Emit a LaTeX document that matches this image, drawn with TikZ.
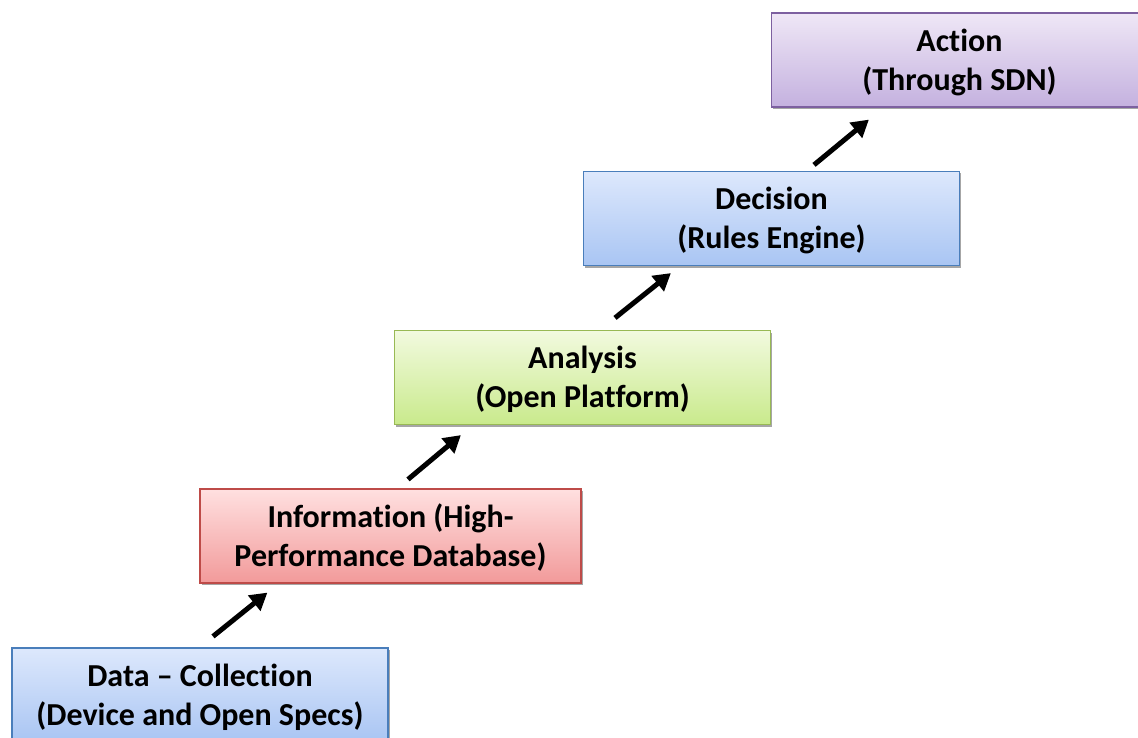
\documentclass[tikz,border=0pt]{standalone}
\usepackage{fontspec}
\setmainfont[Ligatures={TeX,NoCommon}]{Carlito}
\usetikzlibrary{arrows.meta,shadows}
\definecolor{bluetop}{HTML}{DDE8FC}
\definecolor{bluebot}{HTML}{A9C5F3}
\definecolor{blueline}{HTML}{4A7EBB}
\definecolor{redtop}{HTML}{FFE0E0}
\definecolor{redbot}{HTML}{F29A9A}
\definecolor{redline}{HTML}{BE4B48}
\definecolor{greentop}{HTML}{F2FADF}
\definecolor{greenbot}{HTML}{C9EA8C}
\definecolor{greenline}{HTML}{98B954}
\definecolor{purptop}{HTML}{EFE7F6}
\definecolor{purpbot}{HTML}{C4B1DF}
\definecolor{purpline}{HTML}{7D60A0}
\tikzset{
    stage/.style={draw=#1line, line width=1.2pt, top color=#1top, bottom color=#1bot,
        minimum width=376pt, minimum height=94pt, align=center, inner sep=0pt,
        font=\fontsize{32}{39}\selectfont\bfseries, text depth=1pt,
        drop shadow={shadow xshift=1.5pt, shadow yshift=-2pt, opacity=0.35, fill=black}},
    uparrow/.style={line width=5pt, -{Triangle[length=17pt,width=19pt]}}
}
\begin{document}
\begin{tikzpicture}[x=1pt,y=-1pt]
    \useasboundingbox (0,0) rectangle (1138,738);
    \clip (0,0) rectangle (1138,738);
    % the five steps, bottom left to top right
    \node[stage=blue] (data) at (200,695) {Data – Collection\\(Device and Open Specs)};
    \node[stage=red, minimum width=381pt] (info) at (390.5,536) {Information (High-\\Performance Database)};
    \node[stage=green] (analysis) at (582.5,377.5) {Analysis\\(Open Platform)};
    \node[stage=blue] (decision) at (771.5,218.5) {Decision\\(Rules Engine)};
    \node[stage=purp] (action) at (959.5,60) {Action\\(Through SDN)};
    % arrows between the steps
    \draw[uparrow] ([xshift=13pt,yshift=11pt]data.north) -- ([xshift=68pt,yshift=-9pt]info.south west);
    \draw[uparrow] ([xshift=17.5pt,yshift=9pt]info.north) -- ([xshift=67pt,yshift=-10pt]analysis.south west);
    \draw[uparrow] ([xshift=32.5pt,yshift=12pt]analysis.north) -- ([xshift=88pt,yshift=-7pt]decision.south west);
    \draw[uparrow] ([xshift=42.5pt,yshift=6pt]decision.north) -- ([xshift=98pt,yshift=-12pt]action.south west);
\end{tikzpicture}
\end{document}
